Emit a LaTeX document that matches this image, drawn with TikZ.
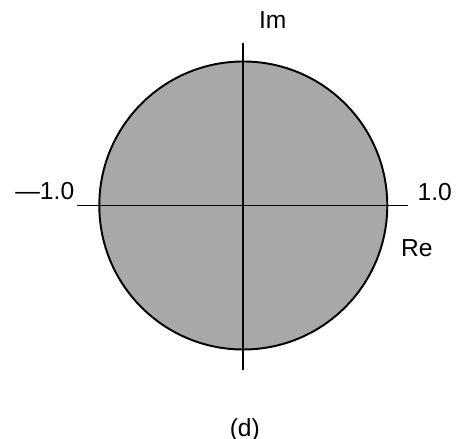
\documentclass[tikz,border=0pt]{standalone}
\usepackage{fontspec}
\setmainfont{Liberation Sans}
\usepackage{xcolor}
\usetikzlibrary{positioning}
\definecolor{diskgray}{RGB}{168,168,168}

\begin{document}
\begin{tikzpicture}[
  font=\fontsize{14}{16}\selectfont,
  every node/.style={align=center},
  disk/.style  = {circle, draw, line width=1.1pt, fill=diskgray,
                  minimum size=5.76cm, inner sep=0pt},
  axis/.style  = {line width=1.1pt},
  lab/.style   = {inner sep=1pt}
]
\useasboundingbox (-4.866,-4.67) rectangle (4.274,4.11);

%% ===== unit disk =====
\node[disk] (unit) at (0,0) {};

%% ===== axes =====
\coordinate (reL) at (-3.33, 0);
\coordinate (reR) at ( 3.30, 0);
\coordinate (imB) at (0, -3.29);
\coordinate (imT) at (0,  3.24);
\draw[axis] (reL) -- (reR);
\draw[axis] (imB) -- (imT);

%% ===== labels =====
\node[lab] (im)   at ( 0.59, 3.71) {Im};
\node[lab] (re)   at ( 3.47,-0.86) {Re};
\node[lab] (mone) at (-3.97, 0.29) {\textemdash1.0};
\node[lab] (pone) at ( 3.83, 0.26) {1.0};
\node[lab] (cap)  at ( 0.03,-4.49) {(d)};

\end{tikzpicture}
\end{document}
